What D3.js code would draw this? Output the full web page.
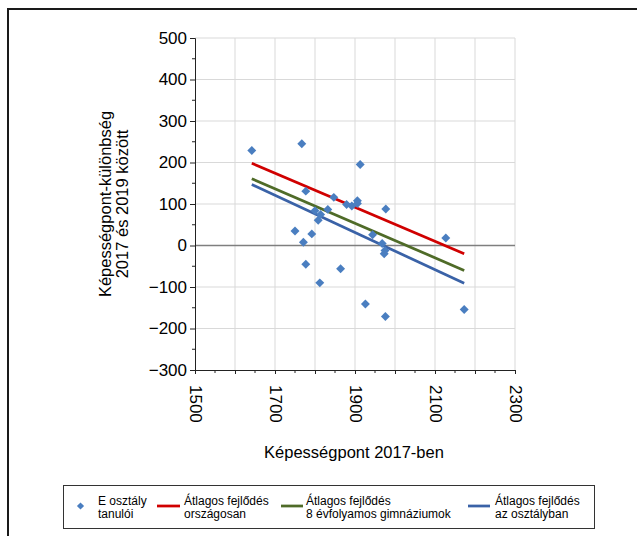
<!DOCTYPE html>
<html>
<head>
<meta charset="utf-8">
<script src="https://cdn.jsdelivr.net/npm/d3@7"></script>
<style>
  body { margin: 0; background: #fff; }
  svg { display: block; font-family: "Liberation Sans", Arial, sans-serif; }
</style>
</head>
<body>
<div id="chart"></div>
<script>
(function scatter_progress() {

  // E osztály tanulói: képességpont 2017-ben, különbség 2017-2019
  const studentX = [1642, 1767, 1777, 1750, 1771, 1777, 1792, 1800, 1814, 1808, 1832, 1812, 1847, 1864,
    1879, 1892, 1906, 1906, 1913, 1926, 1944, 1968, 1977, 1975, 1973, 1976, 2127, 2173];
  const studentY = [229, 245, 131, 35, 8, -45, 28, 84, 75, 61, 87, -90, 116, -56,
    99, 95, 108, 101, 195, -141, 26, 5, 88, -12, -20, -171, 18, -154];

  // trend lines, start and end
  const trendX = [1642, 2173];
  const trendNational = [198, -20];
  const trendGym8 = [161, -60];
  const trendClass = [147, -91];

  const xTicks = [1500, 1700, 1900, 2100, 2300];
  const yTicks = [-300, -200, -100, 0, 100, 200, 300, 400, 500];

  const legendLabels = [
    ["E osztály", "tanulói"],
    ["Átlagos fejlődés", "országosan"],
    ["Átlagos fejlődés", "8 évfolyamos gimnáziumok"],
    ["Átlagos fejlődés", "az osztályban"]
  ];

  const width = 637, height = 536;
  const plot = { left: 195, right: 515, top: 38, bottom: 370 };
  const colors = { point: "#4A7EC0", national: "#D00000", gym8: "#4F6B28", cls: "#3A62A7" };

  const svg = d3.select("#chart")
    .append("svg")
    .attr("width", width)
    .attr("height", height);

  // outer frame
  svg.append("rect")
    .attr("x", 8).attr("y", 9)
    .attr("width", 700).attr("height", 600)
    .attr("fill", "none")
    .attr("stroke", "#1a1a1a")
    .attr("stroke-width", 2);

  const x = d3.scaleLinear().domain([1500, 2300]).range([plot.left, plot.right]);
  const y = d3.scaleLinear().domain([-300, 500]).range([plot.bottom, plot.top]);

  // grid
  svg.append("g")
    .selectAll("line")
    .data(d3.range(1600, 2301, 100))
    .join("line")
    .attr("x1", d => x(d)).attr("x2", d => x(d))
    .attr("y1", plot.top).attr("y2", plot.bottom)
    .attr("stroke", "#d9d9d9");

  svg.append("g")
    .selectAll("line")
    .data(d3.range(-200, 501, 100))
    .join("line")
    .attr("x1", plot.left).attr("x2", plot.right)
    .attr("y1", d => y(d)).attr("y2", d => y(d))
    .attr("stroke", "#d9d9d9");

  // zero line
  svg.append("line")
    .attr("x1", plot.left).attr("x2", plot.right)
    .attr("y1", y(0)).attr("y2", y(0))
    .attr("stroke", "#7f7f7f")
    .attr("stroke-width", 1.7);

  // y axis
  const yAxis = svg.append("g")
    .attr("transform", `translate(${plot.left},0)`)
    .call(d3.axisLeft(y).tickValues(yTicks).tickSize(5).tickPadding(3));
  yAxis.select(".domain").attr("stroke", "#222");
  yAxis.selectAll(".tick line").attr("stroke", "#222");
  yAxis.selectAll(".tick text")
    .attr("font-size", 17)
    .attr("fill", "#000")
    .attr("font-family", "Liberation Sans, Arial, sans-serif");
  yAxis.append("g")
    .selectAll("line")
    .data(d3.range(-250, 500, 100))
    .join("line")
    .attr("x1", -3).attr("x2", 0)
    .attr("y1", d => y(d)).attr("y2", d => y(d))
    .attr("stroke", "#222");

  // x axis
  const xAxis = svg.append("g")
    .attr("transform", `translate(0,${plot.bottom})`)
    .call(d3.axisBottom(x).tickValues(d3.range(1500, 2301, 100)).tickSize(4).tickFormat(""));
  xAxis.select(".domain").attr("stroke", "#222");
  xAxis.selectAll(".tick line").attr("stroke", "#222");
  xAxis.append("g")
    .selectAll("line")
    .data(d3.range(1550, 2300, 100))
    .join("line")
    .attr("x1", d => x(d)).attr("x2", d => x(d))
    .attr("y1", 0).attr("y2", 3)
    .attr("stroke", "#222");

  svg.append("g")
    .selectAll("text")
    .data(xTicks)
    .join("text")
    .attr("transform", d => `translate(${x(d)},${plot.bottom + 15}) rotate(90)`)
    .attr("dominant-baseline", "central")
    .attr("font-size", 17)
    .text(d => d);

  // axis titles
  svg.append("text")
    .attr("transform", "translate(105,204) rotate(-90)")
    .attr("text-anchor", "middle")
    .attr("dominant-baseline", "central")
    .attr("font-size", 16.5)
    .text("Képességpont-különbség");
  svg.append("text")
    .attr("transform", "translate(122,204) rotate(-90)")
    .attr("text-anchor", "middle")
    .attr("dominant-baseline", "central")
    .attr("font-size", 16.5)
    .text("2017 és 2019 között");

  svg.append("text")
    .attr("x", 354).attr("y", 458)
    .attr("text-anchor", "middle")
    .attr("font-size", 16.5)
    .text("Képességpont 2017-ben");

  // trend lines
  const trends = [
    { vals: trendNational, color: colors.national },
    { vals: trendGym8, color: colors.gym8 },
    { vals: trendClass, color: colors.cls }
  ];
  const line = d3.line().x(d => x(d[0])).y(d => y(d[1]));
  svg.append("g")
    .selectAll("path")
    .data(trends)
    .join("path")
    .attr("d", t => line(trendX.map((v, i) => [v, t.vals[i]])))
    .attr("fill", "none")
    .attr("stroke", t => t.color)
    .attr("stroke-width", 2.75);

  // points
  const diamond = d3.symbol().type(d3.symbolSquare).size(40);
  svg.append("g")
    .selectAll("path")
    .data(studentX.map((v, i) => [v, studentY[i]]))
    .join("path")
    .attr("d", diamond)
    .attr("transform", d => `translate(${x(d[0])},${y(d[1])}) rotate(45)`)
    .attr("fill", colors.point);

  // legend
  const legend = svg.append("g");
  legend.append("rect")
    .attr("x", 63.5).attr("y", 485.5)
    .attr("width", 531).attr("height", 43)
    .attr("fill", "#fff")
    .attr("stroke", "#333");

  const legendX = [98, 184, 306, 495];
  const swatchX = [null, [157, 180], [281, 303], [468, 490]];
  const swatchColor = [colors.point, colors.national, colors.gym8, colors.cls];

  legend.append("path")
    .attr("d", d3.symbol().type(d3.symbolSquare).size(26))
    .attr("transform", "translate(80.5,506) rotate(45)")
    .attr("fill", colors.point);

  legendLabels.forEach((lines, i) => {
    if (swatchX[i]) {
      legend.append("line")
        .attr("x1", swatchX[i][0]).attr("x2", swatchX[i][1])
        .attr("y1", 506).attr("y2", 506)
        .attr("stroke", swatchColor[i])
        .attr("stroke-width", 2.75);
    }
    const t = legend.append("text")
      .attr("font-size", 12)
      .attr("fill", "#000");
    lines.forEach((s, j) => {
      t.append("tspan")
        .attr("x", legendX[i])
        .attr("y", 505 + j * 13)
        .text(s);
    });
  });

})();
</script>
</body>
</html>
